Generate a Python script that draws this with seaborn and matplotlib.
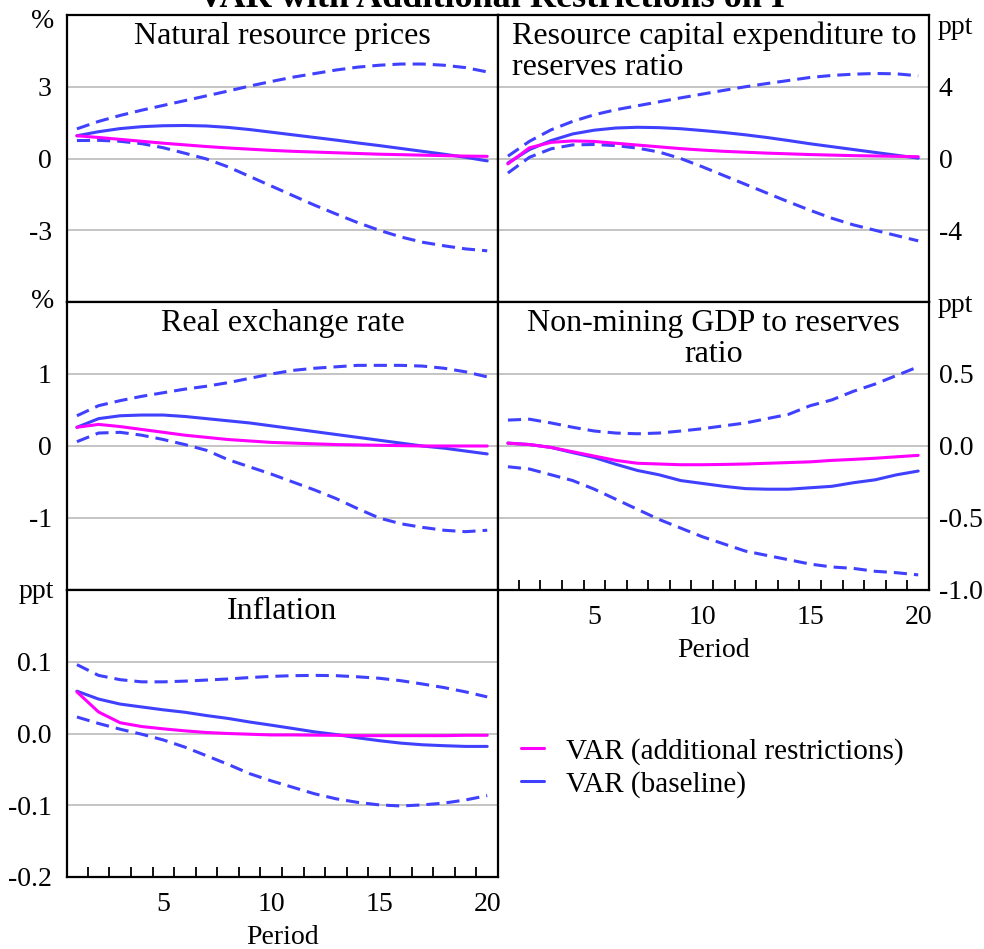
import numpy as np
import pandas as pd
import matplotlib
matplotlib.use("Agg")
import matplotlib.pyplot as plt
import seaborn as sns
from matplotlib.lines import Line2D
from matplotlib.ticker import FixedLocator

sns.set_style("white")
plt.rcParams['font.family'] = ['Liberation Serif', 'DejaVu Serif']
plt.rcParams['axes.unicode_minus'] = False
for key in ['text.color', 'axes.labelcolor', 'xtick.color', 'ytick.color']:
    plt.rcParams[key] = 'black'

periods = list(range(1, 21))

# Natural resource prices (%)
nrp_restr = [0.95, 0.88, 0.80, 0.72, 0.64, 0.57, 0.50, 0.44, 0.39, 0.34, 0.30, 0.27, 0.24, 0.21, 0.18, 0.16, 0.14, 0.12, 0.10, 0.09]
nrp_base = [0.95, 1.12, 1.25, 1.33, 1.37, 1.38, 1.36, 1.30, 1.21, 1.10, 0.99, 0.88, 0.77, 0.65, 0.54, 0.42, 0.30, 0.18, 0.05, -0.10]
nrp_up = [1.24, 1.55, 1.80, 2.02, 2.22, 2.42, 2.62, 2.82, 3.03, 3.22, 3.40, 3.55, 3.70, 3.82, 3.90, 3.95, 3.95, 3.90, 3.80, 3.62]
nrp_lo = [0.75, 0.76, 0.72, 0.62, 0.45, 0.22, -0.02, -0.35, -0.75, -1.15, -1.55, -1.95, -2.32, -2.68, -3.00, -3.28, -3.50, -3.65, -3.78, -3.86]

# Resource capital expenditure to reserves ratio (ppt)
rce_restr = [-0.30, 0.60, 0.90, 0.98, 0.95, 0.85, 0.75, 0.65, 0.55, 0.47, 0.40, 0.35, 0.30, 0.26, 0.22, 0.19, 0.16, 0.14, 0.12, 0.10]
rce_base = [-0.25, 0.50, 1.00, 1.37, 1.58, 1.70, 1.74, 1.72, 1.66, 1.56, 1.45, 1.32, 1.17, 1.00, 0.82, 0.66, 0.50, 0.34, 0.18, 0.02]
rce_up = [0.13, 0.96, 1.60, 2.07, 2.44, 2.72, 2.94, 3.16, 3.38, 3.59, 3.80, 4.00, 4.18, 4.35, 4.52, 4.63, 4.70, 4.74, 4.72, 4.61]
rce_lo = [-0.81, 0.07, 0.54, 0.76, 0.78, 0.72, 0.58, 0.36, 0.00, -0.46, -0.95, -1.44, -1.93, -2.42, -2.89, -3.33, -3.70, -4.00, -4.30, -4.59]

# Real exchange rate (%)
rer_restr = [0.26, 0.30, 0.27, 0.23, 0.19, 0.15, 0.12, 0.09, 0.07, 0.05, 0.04, 0.03, 0.02, 0.015, 0.01, 0.005, 0.0, 0.0, 0.0, 0.0]
rer_base = [0.26, 0.38, 0.42, 0.43, 0.43, 0.41, 0.38, 0.35, 0.32, 0.28, 0.24, 0.20, 0.16, 0.12, 0.08, 0.04, 0.00, -0.03, -0.07, -0.11]
rer_up = [0.42, 0.56, 0.63, 0.69, 0.74, 0.79, 0.83, 0.88, 0.94, 1.00, 1.05, 1.08, 1.10, 1.12, 1.12, 1.12, 1.11, 1.08, 1.03, 0.96]
rer_lo = [0.06, 0.18, 0.19, 0.15, 0.09, 0.02, -0.06, -0.19, -0.29, -0.39, -0.50, -0.61, -0.73, -0.87, -1.00, -1.08, -1.13, -1.17, -1.19, -1.17]

# Non-mining GDP to reserves ratio (ppt)
nmg_restr = [0.02, 0.01, -0.01, -0.04, -0.07, -0.10, -0.12, -0.125, -0.13, -0.13, -0.128, -0.125, -0.12, -0.115, -0.11, -0.10, -0.093, -0.085, -0.075, -0.065]
nmg_base = [0.02, 0.01, -0.01, -0.046, -0.08, -0.127, -0.17, -0.20, -0.24, -0.26, -0.28, -0.296, -0.30, -0.30, -0.29, -0.28, -0.255, -0.235, -0.20, -0.174]
nmg_up = [0.18, 0.186, 0.16, 0.13, 0.104, 0.09, 0.085, 0.09, 0.104, 0.12, 0.14, 0.16, 0.19, 0.22, 0.28, 0.32, 0.38, 0.43, 0.49, 0.55]
nmg_lo = [-0.144, -0.16, -0.20, -0.24, -0.30, -0.37, -0.44, -0.51, -0.57, -0.63, -0.68, -0.73, -0.76, -0.79, -0.82, -0.84, -0.85, -0.87, -0.88, -0.895]

# Inflation (ppt)
inf_restr = [0.058, 0.030, 0.015, 0.0097, 0.0065, 0.0037, 0.0014, 0.0, -0.001, -0.002, -0.002, -0.0023, -0.0025, -0.003, -0.003, -0.003, -0.003, -0.003, -0.0025, -0.0025]
inf_base = [0.059, 0.048, 0.041, 0.037, 0.033, 0.0296, 0.025, 0.021, 0.016, 0.0116, 0.007, 0.0023, -0.0014, -0.006, -0.010, -0.0134, -0.0157, -0.017, -0.018, -0.018]
inf_up = [0.096, 0.081, 0.075, 0.072, 0.072, 0.073, 0.0745, 0.076, 0.078, 0.0796, 0.0806, 0.081, 0.0806, 0.079, 0.077, 0.0736, 0.069, 0.064, 0.058, 0.051]
inf_lo = [0.023, 0.014, 0.006, -0.001, -0.009, -0.019, -0.031, -0.043, -0.056, -0.066, -0.075, -0.084, -0.091, -0.096, -0.0995, -0.101, -0.0995, -0.097, -0.0926, -0.0866]

titles = [["Natural resource prices"], ["Resource capital expenditure to", "reserves ratio"],
          ["Real exchange rate"], ["Non-mining GDP to reserves", "ratio"], ["Inflation"]]
units = ["%", "ppt", "%", "ppt", "ppt"]
x_tick_labels = ["5", "10", "15", "20"]
legend_labels = ["VAR (additional restrictions)", "VAR (baseline)"]

MAGENTA = "#ff00ff"
BLUE = "#4040ff"

W, H = 984, 949
fig = plt.figure(figsize=(W / 100, H / 100), dpi=100)


def px_axes(x0, y0, x1, y1):
    return fig.add_axes([x0 / W, 1 - y1 / H, (x1 - x0) / W, (y1 - y0) / H])


def ftext(x, y, s, **kw):
    fig.text(x / W, 1 - y / H, s, **kw)


FS_TICK = 20
FS_TITLE = 23

panels = [
    dict(rect=(67, 15, 498, 302), data=(nrp_restr, nrp_base, nrp_up, nrp_lo), ylim=(-6, 6),
         yticks=[-3, 0, 3], ylabels=["-3", "0", "3"], side="left", xlab=False, tx="center"),
    dict(rect=(498, 15, 929, 302), data=(rce_restr, rce_base, rce_up, rce_lo), ylim=(-8, 8),
         yticks=[-4, 0, 4], ylabels=["-4", "0", "4"], side="right", xlab=False, tx="left"),
    dict(rect=(67, 302, 498, 590), data=(rer_restr, rer_base, rer_up, rer_lo), ylim=(-2, 2),
         yticks=[-1, 0, 1], ylabels=["-1", "0", "1"], side="left", xlab=False, tx="center"),
    dict(rect=(498, 302, 929, 590), data=(nmg_restr, nmg_base, nmg_up, nmg_lo), ylim=(-1, 1),
         yticks=[-1.0, -0.5, 0.0, 0.5], ylabels=["-1.0", "-0.5", "0.0", "0.5"], side="right", xlab=True, tx="center"),
    dict(rect=(67, 590, 498, 877), data=(inf_restr, inf_base, inf_up, inf_lo), ylim=(-0.2, 0.2),
         yticks=[-0.2, -0.1, 0.0, 0.1], ylabels=["-0.2", "-0.1", "0.0", "0.1"], side="left", xlab=True, tx="center"),
]

dash = (0, (4.3, 2.3))
for i, p in enumerate(panels):
    x0, y0, x1, y1 = p["rect"]
    ax = px_axes(*p["rect"])
    restr, base, up, lo = p["data"]
    df = pd.DataFrame({"Period": periods, "restr": restr, "base": base, "up": up, "lo": lo})
    sns.lineplot(data=df, x="Period", y="up", ax=ax, color=BLUE, lw=2.2, linestyle=dash, estimator=None, sort=False)
    sns.lineplot(data=df, x="Period", y="lo", ax=ax, color=BLUE, lw=2.2, linestyle=dash, estimator=None, sort=False)
    sns.lineplot(data=df, x="Period", y="base", ax=ax, color=BLUE, lw=2.2, estimator=None, sort=False)
    sns.lineplot(data=df, x="Period", y="restr", ax=ax, color=MAGENTA, lw=2.2, estimator=None, sort=False)
    ax.set_xlim(0.54, 20.5)
    ax.set_ylim(*p["ylim"])
    ax.set_xlabel("")
    ax.set_ylabel("")
    ax.yaxis.set_major_locator(FixedLocator(p["yticks"]))
    ax.set_yticklabels(p["ylabels"])
    ax.yaxis.grid(True, color="#b4b4b4", lw=1.1)
    ax.xaxis.grid(False)
    ax.set_axisbelow(True)
    for s in ax.spines.values():
        s.set_color("black")
        s.set_linewidth(1.6)
        s.set_visible(True)
    if p["side"] == "right":
        ax.yaxis.tick_right()
        ax.tick_params(axis="y", which="both", length=0, pad=7, labelsize=FS_TICK, right=True, left=False,
                       labelright=True, labelleft=False)
    else:
        ax.tick_params(axis="y", which="both", length=0, pad=11, labelsize=FS_TICK)
    ax.xaxis.set_major_locator(FixedLocator([5, 10, 15, 20]))
    ax.xaxis.set_minor_locator(FixedLocator([k + 0.5 for k in range(1, 20)]))
    if p["xlab"]:
        ax.set_xticklabels(x_tick_labels)
        ax.tick_params(axis="x", which="major", length=0, pad=11, labelsize=FS_TICK)
        ax.tick_params(axis="x", which="minor", direction="in", length=7.5, width=1.3, color="black", bottom=True)
        ax.set_xlabel("Period", fontsize=FS_TICK, labelpad=5.5)
    else:
        ax.tick_params(axis="x", which="both", length=0, labelbottom=False, bottom=False)
    # panel titles, one line at a time
    for k, line in enumerate(titles[i]):
        by = y0 + 29 + 31 * k
        if p["tx"] == "left":
            ftext(x0 + 14, by, line, ha="left", va="baseline", fontsize=FS_TITLE)
        else:
            ftext((x0 + x1) / 2, by, line, ha="center", va="baseline", fontsize=FS_TITLE)

# unit labels
ftext(54, 22, units[0], ha="right", va="center", fontsize=FS_TICK)
ftext(54, 302, units[2], ha="right", va="center", fontsize=FS_TICK)
ftext(54, 592, units[4], ha="right", va="center", fontsize=FS_TICK)
ftext(938, 27, units[1], ha="left", va="center", fontsize=FS_TICK)
ftext(938, 306, units[3], ha="left", va="center", fontsize=FS_TICK)

# suptitle (clipped at top, as in the reference)
ftext(492, 7, "VAR with Additional Restrictions on I", ha="center", va="baseline",
      fontsize=26, fontweight="bold")

handles = [Line2D([], [], color=MAGENTA, lw=2.2), Line2D([], [], color=BLUE, lw=2.2)]
fig.legend(handles, legend_labels, loc="upper left", bbox_to_anchor=(521 / W, 1 - 738 / H),
           frameon=False, fontsize=21, handlelength=0.8, handletextpad=0.75,
           borderpad=0, borderaxespad=0, labelspacing=0.2)

fig.savefig("out.png", dpi=100)
